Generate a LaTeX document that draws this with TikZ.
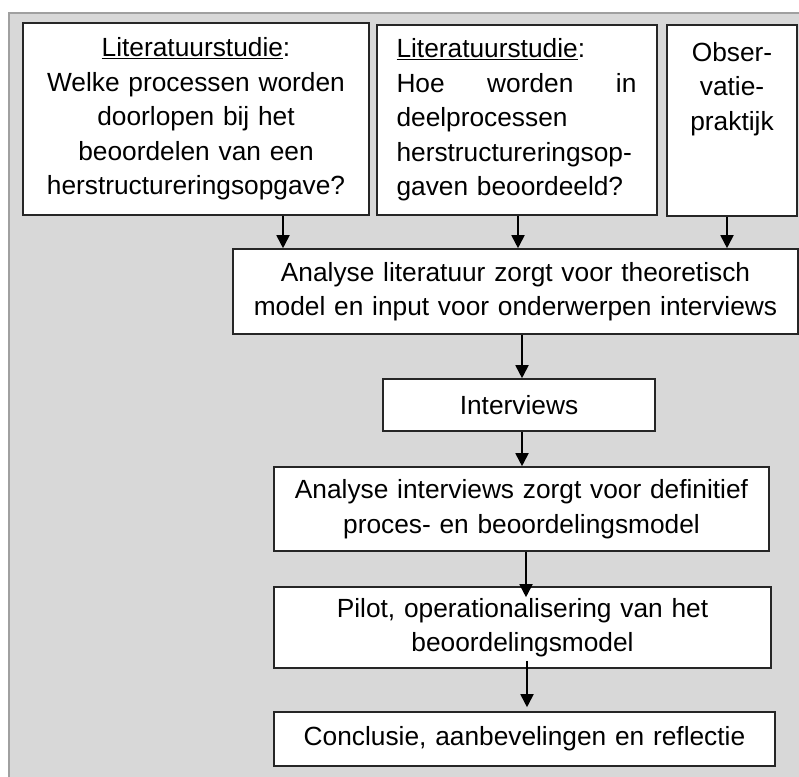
\documentclass[tikz,border=0pt]{standalone}
\usepackage{fontspec}
\setmainfont{Liberation Sans}
\usetikzlibrary{arrows.meta,calc}
\definecolor{bgfill}{HTML}{D8D8D8}
\definecolor{bgline}{HTML}{A0A0A0}
\definecolor{boxline}{HTML}{262626}
\begin{document}
\begin{tikzpicture}[x=1pt,y=-1pt,
  box/.style={draw=boxline,line width=1.6pt,fill=white,inner xsep=0pt,inner ysep=0pt,
    font=\fontsize{26.3}{34.5}\selectfont,text=black},
  arr/.style={draw=black,line width=1.8pt,-{Triangle[width=13pt,length=13pt]}}]
\useasboundingbox (0,0) rectangle (799,776);
\clip (0,0) rectangle (799,776);
\fill[bgfill] (9,13) rectangle (830,800);
\draw[bgline,line width=1.5pt] (9,800) -- (9,13) -- (830,13);

\node[box,minimum width=346pt,minimum height=192pt,text width=306pt,align=center] (lit1) at (196,119)
  {\underline{Literatuurstudie}:\\Welke processen worden\\doorlopen bij het\\beoordelen van een\\herstructureringsopgave?};
\node[box,minimum width=280pt,minimum height=190pt,text width=241pt,align=left] (lit2) at (517,120)
  {\underline{Literatuurstudie}:\\\makebox[240pt][l]{Hoe\hfill worden\hfill in}\\deelprocessen\\herstructureringsop-\\gaven beoordeeld?};
\node[box,minimum width=130pt,minimum height=191pt,text width=110pt,align=center] (obs) at (732,120.5)
  {Obser-\\vatie-\\praktijk\\\mbox{}\\\mbox{}};
\node[box,minimum width=565pt,minimum height=85pt,text width=540pt,align=center] (ana) at (515.5,291.5)
  {Analyse literatuur zorgt voor theoretisch\\model en input voor onderwerpen interviews};
\node[box,minimum width=272pt,minimum height=52pt,text width=250pt,align=center] (int) at (519,405)
  {Interviews};
\node[box,minimum width=495pt,minimum height=84pt,text width=470pt,align=center] (ai) at (521.5,509)
  {Analyse interviews zorgt voor definitief\\proces- en beoordelingsmodel};
\node[box,minimum width=497pt,minimum height=81pt,text width=470pt,align=center] (pilot) at (522.5,627.5)
  {Pilot, operationalisering van het\\beoordelingsmodel};
\node[box,minimum width=501pt,minimum height=54pt,text width=480pt,align=center] (conc) at (524.5,739)
  {Conclusie, aanbevelingen en reflectie};

\coordinate (x1) at (283,0);
\coordinate (x2) at (518,0);
\coordinate (x3) at (727,0);
\coordinate (x4) at (522,0);
\coordinate (x6) at (526,0);
\coordinate (x7) at (527,0);

\draw[arr] (lit1.south -| x1) -- (ana.north -| x1);
\draw[arr] (lit2.south -| x2) -- (ana.north -| x2);
\draw[arr] (obs.south -| x3) -- (ana.north -| x3);
\draw[arr] (ana.south -| x4) -- (int.north -| x4);
\draw[arr] (int.south -| x4) -- (ai.north -| x4);
\draw[arr] (ai.south -| x6) -- ($(pilot.north -| x6)+(0,11)$);
\draw[arr] ($(pilot.south -| x7)+(0,-8)$) -- ($(conc.north -| x7)+(0,-4)$);
\end{tikzpicture}
\end{document}
